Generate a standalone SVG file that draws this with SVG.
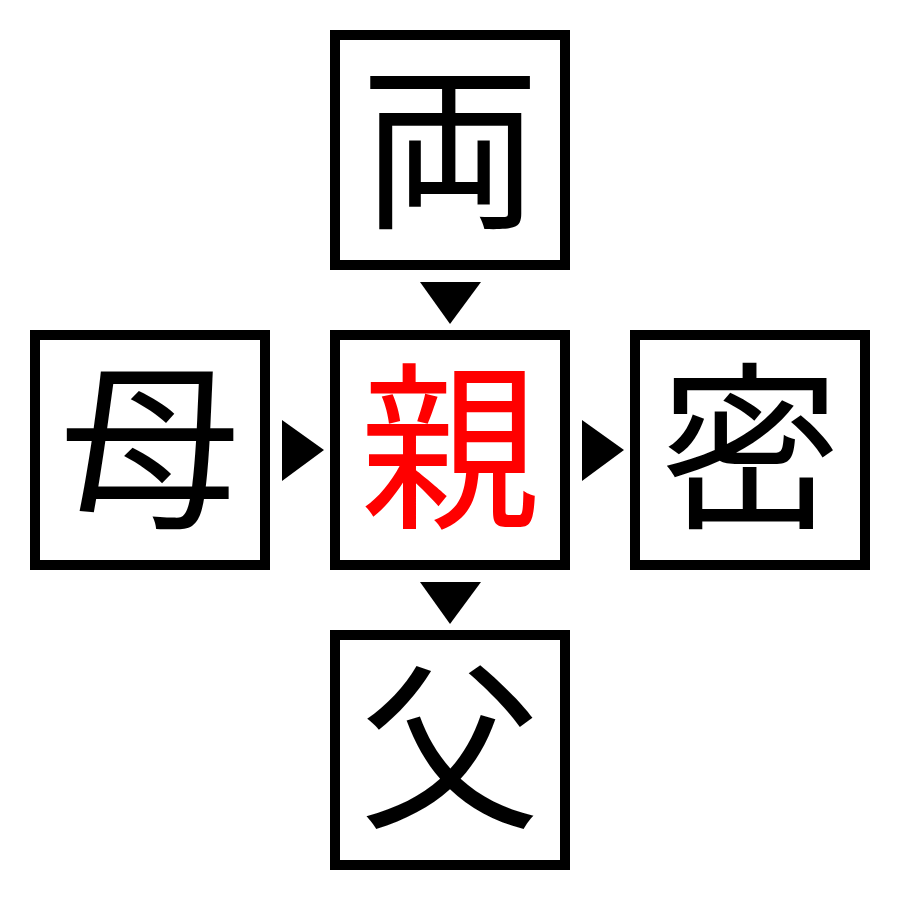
<svg xmlns="http://www.w3.org/2000/svg" width="900" height="900" viewBox="0 0 900 900">
<style>
.box{fill:#fff;stroke:#000;stroke-width:10}
.ch{font-family:"Noto Sans CJK JP","Noto Sans CJK SC",sans-serif;font-size:180px;text-anchor:middle}
</style>
<rect width="900" height="900" fill="#fff"/>
<g id="node-top"><rect class="box" x="335" y="35" width="230" height="230"/><text class="ch" x="450" y="214">両</text></g>
<g id="node-left"><rect class="box" x="35" y="335" width="230" height="230"/><text class="ch" x="150" y="514">母</text></g>
<g id="node-center"><rect class="box" x="335" y="335" width="230" height="230"/><text class="ch" x="450" y="514" fill="#f00">親</text></g>
<g id="node-right"><rect class="box" x="635" y="335" width="230" height="230"/><text class="ch" x="750" y="514">密</text></g>
<g id="node-bottom"><rect class="box" x="335" y="635" width="230" height="230"/><text class="ch" x="450" y="814">父</text></g>
<g id="connectors" fill="#000">
<polygon points="420,282 481,282 450,324"/>
<polygon points="282,420 324,450 282,481"/>
<polygon points="582,420 624,450 582,481"/>
<polygon points="420,582 481,582 450,624"/>
</g>
</svg>
